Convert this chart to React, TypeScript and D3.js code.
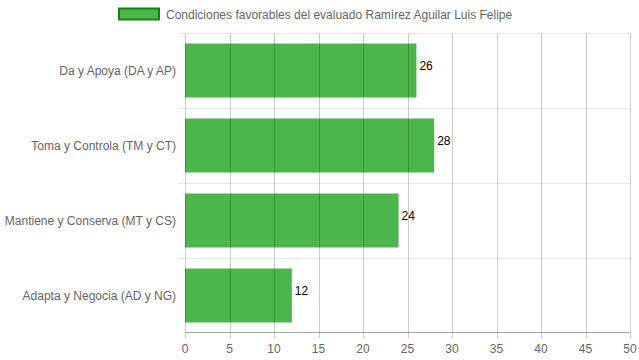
import React from "react"
import * as d3 from "d3"

const categories = ["Da y Apoya (DA y AP)", "Toma y Controla (TM y CT)", "Mantiene y Conserva (MT y CS)", "Adapta y Negocia (AD y NG)"]
const values = [26, 28, 24, 12]
const xTicks = [0, 5, 10, 15, 20, 25, 30, 35, 40, 45, 50]
const seriesName = "Condiciones favorables del evaluado Ramírez Aguilar Luis Felipe"

const W = 639
const H = 360
const left = 185
const right = 630
const top = 33
const bottom = 333
const font = "'Helvetica Neue', Helvetica, Arial, 'Liberation Sans', sans-serif"

const App = () => {
  const x = d3.scaleLinear().domain([0, 50]).range([left, right])
  const yBand = d3.scaleBand().domain(categories).range([top, bottom])
  const y = d3.scaleBand().domain(categories).range([top, bottom]).paddingInner(0.28).paddingOuter(0.14)

  return (
    <svg width={W} height={H} style={{ position: "absolute", left: 0, top: 0 }} fontFamily={font}>
      {/* legend */}
      <rect x={119} y={8.5} width={40} height={11} fill="rgba(0,150,0,0.7)" stroke="rgb(20,130,20)" strokeWidth={2} />
      <text x={166} y={18.5} fontSize={12} fill="#666">{seriesName}</text>

      {/* horizontal grid */}
      {categories.map((c, i) => (
        <line key={"h" + i} x1={left - 7} x2={right} y1={yBand(c)! + 0.5} y2={yBand(c)! + 0.5} stroke="rgba(0,0,0,0.08)" />
      ))}

      {/* bars */}
      {categories.map((c, i) => (
        <rect key={"b" + i} x={x(0)} y={y(c)} width={x(values[i]) - x(0)} height={y.bandwidth()} fill="rgba(0,150,0,0.7)" />
      ))}

      {/* vertical grid */}
      {xTicks.map((t) => (
        <line key={"v" + t} x1={Math.round(x(t)) + 0.5} x2={Math.round(x(t)) + 0.5} y1={top} y2={bottom + 5} stroke="rgba(0,0,0,0.2)" />
      ))}
      <line x1={left} x2={right} y1={bottom - 0.5} y2={bottom - 0.5} stroke="rgba(0,0,0,0.35)" />

      {/* tick labels */}
      {xTicks.map((t) => (
        <text key={"t" + t} x={x(t)} y={353} fontSize={12} fill="#666" textAnchor="middle">{t}</text>
      ))}
      {categories.map((c) => (
        <text key={"c" + c} x={176} y={yBand(c)! + yBand.bandwidth() / 2 + 4} fontSize={12} fill="#666" textAnchor="end">{c}</text>
      ))}

      {/* value labels */}
      {categories.map((c, i) => (
        <text key={"l" + i} x={x(values[i]) + 3} y={y(c)! + 26} fontSize={12} fill="#000">{values[i]}</text>
      ))}
    </svg>
  )
}

export default App
